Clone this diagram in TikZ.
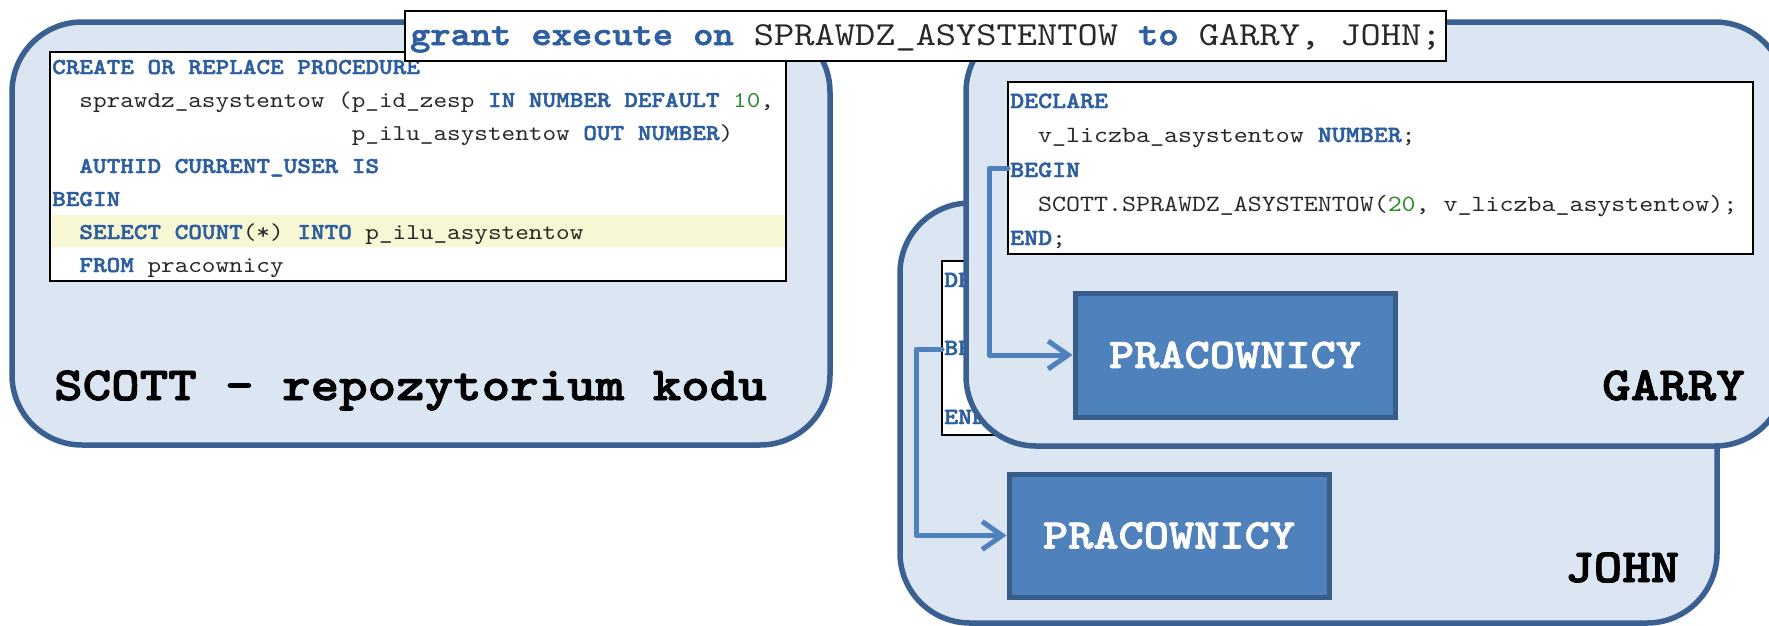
\documentclass[tikz,border=0pt]{standalone}
\usepackage{fontspec}
\setmainfont{Liberation Sans}
% slab-serif typewriter face, widened to Courier proportions (0.6 em per character)
\newfontfamily\codefont{lmmono10-regular.otf}[BoldFont=lmmonolt10-bold.otf, FakeStretch=1.143, BoldFeatures={FakeBold=2}]
\usetikzlibrary{arrows.meta}
\frenchspacing

\definecolor{boxfill}{RGB}{220,230,242}
\definecolor{boxline}{RGB}{58,96,145}
\definecolor{tablefill}{RGB}{79,129,189}
\definecolor{tableline}{RGB}{56,93,138}
\definecolor{linkblue}{RGB}{79,129,189}
\definecolor{kwblue}{RGB}{44,94,160}
\definecolor{numgreen}{RGB}{44,140,44}
\definecolor{hilite}{RGB}{248,247,212}
\definecolor{codeink}{RGB}{40,40,40}

\newcommand\kw[1]{{\bfseries\color{kwblue}#1}}
\newcommand\nm[1]{{\color{numgreen}#1}}

\tikzset{
  userbox/.style={draw=boxline, fill=boxfill, line width=5.5pt, rounded corners=70pt, inner sep=0pt},
  codebox/.style={draw=black, fill=white, line width=2pt, inner sep=0pt},
  scottcode/.style={anchor=base west, inner sep=0pt, text=codeink, font=\codefont\fontsize{22.7}{27}\selectfont},
  usercode/.style={anchor=base west, inner sep=0pt, text=codeink, font=\codefont\fontsize{23.3}{28}\selectfont},
  tablebox/.style={draw=tableline, fill=tablefill, line width=5pt, inner sep=0pt, text=white, font=\codefont\bfseries\fontsize{42}{48}\selectfont},
  ownerlabel/.style={anchor=base west, inner sep=0pt, text=black, font=\codefont\bfseries\fontsize{47.5}{54}\selectfont},
  grantline/.style={anchor=base west, inner sep=0pt, text=codeink, font=\codefont\fontsize{33.7}{40}\selectfont},
  link/.style={draw=linkblue, line width=5pt, line cap=round, line join=round, -{Straight Barb[length=20pt,width=28pt]}},
}

\begin{document}
\begin{tikzpicture}[x=1pt,y=-1pt]
\clip (0,0) rectangle (1769,625);

% ---- SCOTT: schema holding the procedure ----
\node[userbox, minimum width=818pt, minimum height=423pt] (scott) at (421,233.5) {};
\node[codebox, minimum width=736pt, minimum height=229pt] (scode) at (418,166.5) {};
\node[fill=hilite, inner sep=0pt, minimum width=733pt, minimum height=32pt] (shl) at (418,231) {};
\node[scottcode] (s1) at (52,74)  {\kw{CREATE OR REPLACE PROCEDURE}};
\node[scottcode] (s2) at (79.2,107) {sprawdz\_asystentow (p\_id\_zesp \kw{IN NUMBER DEFAULT} \nm{10},};
\node[scottcode] (s3) at (351.6,140) {p\_ilu\_asystentow \kw{OUT NUMBER})};
\node[scottcode] (s4) at (79.2,173) {\kw{AUTHID CURRENT\_USER IS}};
\node[scottcode] (s5) at (52,206) {\kw{BEGIN}};
\node[scottcode] (s6) at (79.2,239) {\kw{SELECT COUNT}(*) \kw{INTO} p\_ilu\_asystentow};
\node[scottcode] (s7) at (79.2,272) {\kw{FROM} pracownicy};
\node[ownerlabel] (scottname) at (54,400) {SCOTT – repozytorium kodu};

% ---- JOHN (its block is mostly hidden behind GARRY) ----
\node[userbox, minimum width=817pt, minimum height=420pt] (john) at (1308.5,413) {};
\node[codebox, line width=1.5pt, minimum width=745pt, minimum height=174pt] (jcode) at (1314.5,348) {};
\node[usercode] (j1) at (944,287) {\kw{DECLARE}};
\node[usercode] (j3) at (944,355) {\kw{BEGIN}};
\node[usercode] (j5) at (944,424) {\kw{END};};
\node[tablebox, minimum width=320pt, minimum height=123pt] (pracJ) at (1169,535.5) {PRACOWNICY};
\coordinate (jcall) at (942,349);
\draw[link] (jcall) -- ++(-26,0) |- (pracJ.west);
\node[ownerlabel] (johnname) at (1565,582) {JOHN};

% ---- GARRY ----
\node[userbox, minimum width=819pt, minimum height=424pt] (garry) at (1375.5,234) {};
\node[codebox, minimum width=745pt, minimum height=172pt] (gcode) at (1380.5,168) {};
\node[usercode] (g1) at (1010,108) {\kw{DECLARE}};
\node[usercode] (g2) at (1038,142) {v\_liczba\_asystentow \kw{NUMBER};};
\node[usercode] (g3) at (1010,177) {\kw{BEGIN}};
\node[usercode] (g4) at (1038,211) {SCOTT.SPRAWDZ\_ASYSTENTOW(\nm{20}, v\_liczba\_asystentow);};
\node[usercode] (g5) at (1010,245) {\kw{END};};
\node[tablebox, minimum width=320pt, minimum height=124pt] (pracG) at (1235,355) {PRACOWNICY};
\coordinate (gcall) at (1008,168);
\draw[link] (gcall) -- ++(-19,0) |- (pracG.west);
\node[ownerlabel] (garryname) at (1602,400) {GARRY};

% ---- grant statement ----
\node[codebox, line width=2.5pt, minimum width=1041pt, minimum height=50pt] (grant) at (925.5,36) {};
\node[grantline] (granttext) at (410,45) {\kw{grant execute on} SPRAWDZ\_ASYSTENTOW \kw{to} GARRY, JOHN;};
\end{tikzpicture}
\end{document}
